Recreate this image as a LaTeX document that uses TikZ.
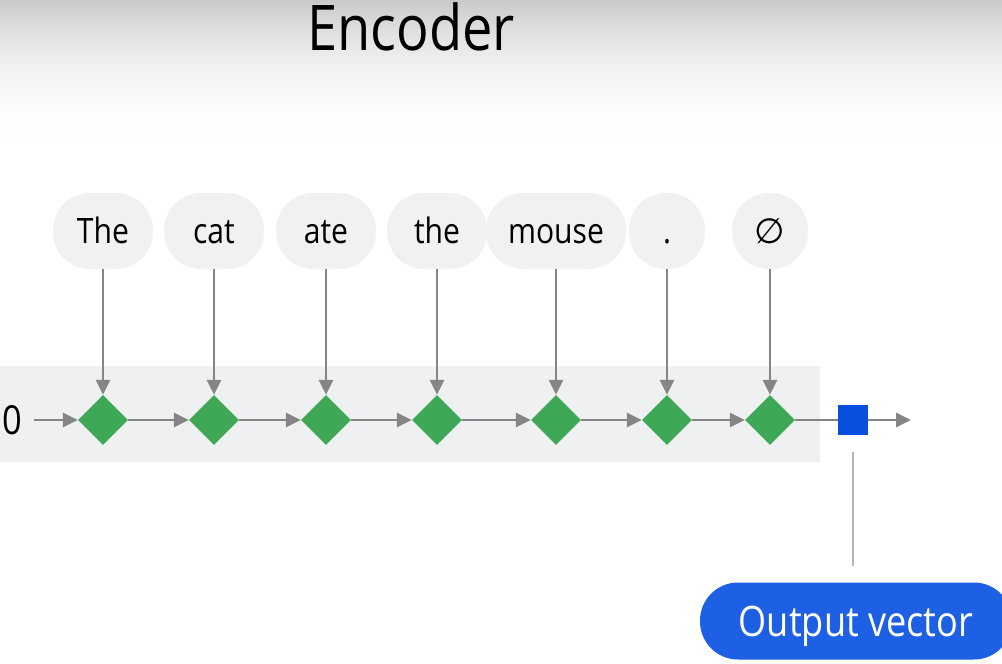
\documentclass[tikz,border=0pt]{standalone}
\usepackage{fontspec}
\setmainfont{Open Sans}[FakeStretch=0.86]
\newfontfamily\dejavu{DejaVu Sans}
\usepackage{tikz}
\usetikzlibrary{arrows.meta,shapes.geometric}

\definecolor{wordgray}{HTML}{F1F1F1}
\definecolor{bandgray}{HTML}{EEF0F2}
\definecolor{cellgreen}{HTML}{3FA856}
\definecolor{vecblue}{HTML}{0B4FDE}
\definecolor{pillblue}{HTML}{1E60E4}
\definecolor{linegray}{HTML}{858585}

\begin{document}
\begin{tikzpicture}[
    x=1pt, y=-1pt,
    word/.style={fill=wordgray, rounded corners=37pt, minimum width=100pt, minimum height=76pt,
                 inner sep=0pt, text height=25pt, text depth=0pt, font=\fontsize{35}{40}\selectfont},
    cell/.style={diamond, aspect=1, fill=cellgreen, minimum width=50pt, minimum height=50pt, inner sep=0pt},
    arr/.style={-{Triangle[length=15pt,width=14pt]}, line width=2.8pt, draw=linegray},
]
    \useasboundingbox (0,0) rectangle (1002,664);
    \clip (0,0) rectangle (1002,664);
    % top fade, in thin strips
    \foreach \i in {0,...,79} {
        \pgfmathsetmacro{\shadeval}{21*(1-\i/80)^2.5}
        \fill[black!\shadeval] (0,2*\i) rectangle (1002,2*\i+2.4);
    }
    \fill[bandgray] (0,366) rectangle (820,462);

    \node[font=\fontsize{63}{66}\selectfont] (title) at (411,27) {Encoder};

    % input words
    \node[word] (w1) at (103,231) {The};
    \node[word] (w2) at (214,231) {cat};
    \node[word] (w3) at (326,231) {ate};
    \node[word] (w4) at (437,231) {the};
    \node[word, minimum width=140pt] (w5) at (556,231) {mouse};
    \node[word, minimum width=76pt] (w6) at (667,231) {.};
    \node[word, minimum width=76pt] (w7) at (770,231) {\dejavu ∅};

    % recurrent cells
    \node[font=\fontsize{40}{44}\selectfont] (zero) at (12,420) {0};
    \node[cell] (d1) at (103,420) {};
    \node[cell] (d2) at (214,420) {};
    \node[cell] (d3) at (326,420) {};
    \node[cell] (d4) at (437,420) {};
    \node[cell] (d5) at (556,420) {};
    \node[cell] (d6) at (667,420) {};
    \node[cell] (d7) at (770,420) {};
    \node[fill=vecblue, minimum size=30pt, inner sep=0pt] (vec) at (853,420) {};
    \coordinate (end) at (911,420);

    \node[fill=pillblue, rounded corners=38pt, minimum width=312pt, minimum height=77pt, inner sep=0pt,
          text=white, text height=30pt, text depth=0pt, font=\fontsize{42}{46}\selectfont] (out) at (856,621) {Output vector};

    \draw[arr] (w1) -- (d1);
    \draw[arr] (w2) -- (d2);
    \draw[arr] (w3) -- (d3);
    \draw[arr] (w4) -- (d4);
    \draw[arr] (w5) -- (d5);
    \draw[arr] (w6) -- (d6);
    \draw[arr] (w7) -- (d7);

    \draw[arr, shorten <=9pt] (zero) -- (d1);
    \draw[arr] (d1) -- (d2);
    \draw[arr] (d2) -- (d3);
    \draw[arr] (d3) -- (d4);
    \draw[arr] (d4) -- (d5);
    \draw[arr] (d5) -- (d6);
    \draw[arr] (d6) -- (d7);
    \draw[line width=2.8pt, draw=linegray] (d7) -- (vec);
    \draw[arr] (vec) -- (end);

    \draw[line width=1.5pt, draw=linegray!60, shorten <=17pt, shorten >=16pt] (vec.south) -- (vec.south |- out.north);
\end{tikzpicture}
\end{document}
